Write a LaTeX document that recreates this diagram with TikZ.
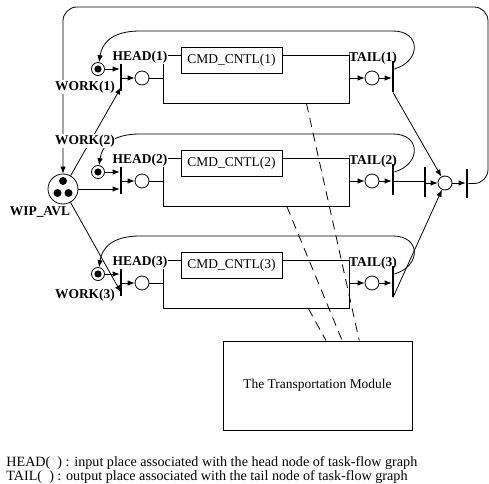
\documentclass[tikz,border=0pt]{standalone}
\usepackage{fontspec}
\setmainfont{Liberation Serif}
\usetikzlibrary{arrows.meta,positioning,calc}
\tikzset{%
  place/.style={circle,draw,fill=white,minimum size=14bp,inner sep=0pt},
  marked/.style={circle,draw,fill=white,minimum size=13bp,inner sep=0pt},
  bar/.style={rectangle,fill=black,minimum width=2bp,inner sep=0pt},
  arc/.style={-{Latex[length=7bp,width=5.5bp]}},
  lbl/.style={font=\fontsize{13.5}{16}\selectfont\bfseries,fill=white,inner sep=0.6bp},
  cmdbox/.style={rectangle,draw,fill=white,minimum width=101bp,minimum height=26bp,inner sep=0pt},
  link/.style={dash pattern=on 9bp off 6bp}
}

\begin{document}
\begin{tikzpicture}[x=1bp,y=-1bp,line width=0.8bp,font=\fontsize{13.5}{16}\selectfont]
\useasboundingbox (0,0) rectangle (489,484);

% geometry
\def\hx{121}   % head transitions
\def\tx{393}   % tail transitions

% ===================== shared places / transitions =====================
\node[place,minimum size=30bp] (wip) at (63,189) {};
\fill ($(wip)+(0,-8)$) circle (4bp) ($(wip)+(-5.5,4)$) circle (4bp) ($(wip)+(5.5,4)$) circle (4bp);
\node[bar,minimum height=30bp] (mb) at (425,182) {};
\node[place] (cl) at (445,183) {};
\node[bar,minimum height=28bp] (ff) at (467,183.5) {};
\node[draw,minimum width=189bp,minimum height=89bp,inner sep=0pt] (md) at (317.5,385.5) {The Transportation Module};

% ===================== task rows =====================
\foreach \r/\ay in {1/78,2/181,3/283}{
  \node[marked] (w\r) at (98,\ay-9) {};
  \fill (w\r) circle (3.6bp);
  \node[bar,minimum height=30bp] (ht\r) at (\hx,\ay-2) {};
  \node[place] (hp\r) at (142,\ay) {};
  \node[draw,minimum width=186bp,minimum height=48bp,inner sep=0pt] (rc\r) at (256,\ay+1) {};
  \node[cmdbox] (cm\r) at (231.5,\ay-18) {CMD\_CNTL(\r)};
  \node[place] (tp\r) at (372,\ay) {};
  \node[bar,minimum height=31bp] (tt\r) at (\tx,\ay-1.5) {};
  % arcs along the row
  \draw[arc] (w\r.east) -- (w\r.east -| ht\r.west);
  \draw[arc] (hp\r -| ht\r.east) -- (hp\r);
  \draw (hp\r) -- (hp\r -| rc\r.west);
  \draw[arc] (tp\r -| rc\r.east) -- (tp\r);
  \draw[arc] (tp\r) -- (tp\r -| tt\r.west);
  % feedback to WORK place
  \draw[arc] ([yshift=7.5bp]tt\r.east) .. controls +(27,-8) and +(28,0) .. (\tx,\ay-47)
    -- (140,\ay-47) .. controls (112,\ay-47) and (102,\ay-35) .. (w\r);
}

% ---- WIP_AVL to the head transitions ----
\draw[arc] (wip) -- ([yshift=4bp]ht1.south);
\draw[arc] (wip.east) -- (wip.east -| ht2.west);
\draw[arc] (wip) -- ([yshift=4bp]ht3.south);

% ---- tails to the collector and back ----
\draw (tp2 -| tt2.east) -- (tp2 -| mb.west);
\draw[arc] (cl -| mb.east) -- (cl);
\draw[arc] (tt1.south) -- (cl);
\draw[arc] (tt3.south) -- (cl);
\draw[arc] (cl) -- (cl -| ff.west);
\draw[arc,rounded corners=14bp] (ff.east) -| (488,7) -| (wip);

% ---- links to the transportation module ----
\draw[link] ($(rc1.south west)!0.77!(rc1.south east)$) -- ($(md.north west)!0.72!(md.north east)$);
\draw[link] ($(rc2.south west)!0.665!(rc2.south east)$) -- ($(md.north west)!0.63!(md.north east)$);
\draw[link] ($(rc3.south west)!0.78!(rc3.south east)$) -- ($(md.north west)!0.545!(md.north east)$);

% ===================== labels =====================
\foreach \r/\ay/\wy in {1/78/87,2/181/141,3/283/295}{
  \node[lbl] (lh\r) at (140,\ay-20.5) {HEAD(\r)};
  \node[lbl,fill=none,inner sep=0pt] (lt\r) at (373,\ay-20) {TAIL(\r)};
  \node[lbl] (lw\r) at (85,\wy) {WORK(\r)};
}
\node[lbl] (lwip) at (40,212) {WIP\_AVL};

\begin{scope}[font=\fontsize{14.2}{16}\selectfont]
\node[anchor=west,inner sep=0pt] (lg1) at (6,463) {HEAD(\ \ ) : input place associated with the head node of task-flow graph};
\node[anchor=west,inner sep=0pt] (lg2) at (6,477) {TAIL(\ \ ) : output place associated with the tail node of task-flow graph};
\end{scope}
\end{tikzpicture}
\end{document}
